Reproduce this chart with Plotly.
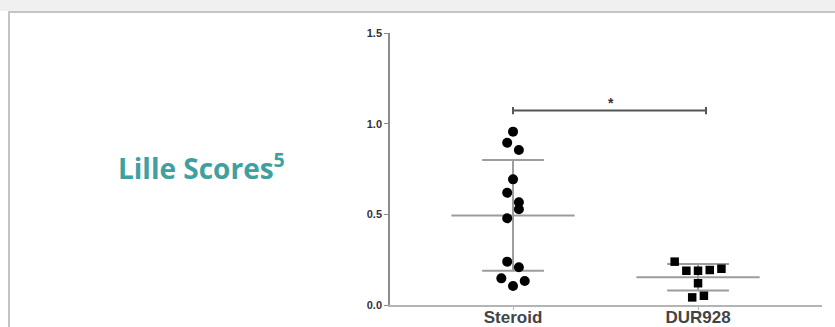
import numpy as np
import plotly.graph_objects as go

# ---------------- data ----------------
categories = ["Steroid", "DUR928"]
steroid_scores = [0.956, 0.895, 0.855, 0.693, 0.619, 0.567, 0.478, 0.528,
                  0.239, 0.208, 0.147, 0.105, 0.132]
dur928_scores = [0.239, 0.189, 0.189, 0.193, 0.200, 0.120, 0.042, 0.051]
y_tick_vals = [0.0, 0.5, 1.0, 1.5]
y_tick_text = ["0.0", "0.5", "1.0", "1.5"]
significance_y = 1.072
significance_label = "*"
title_text = "Lille Scores<sup>5</sup>"

# ---------------- layout constants ----------------
W, H = 835, 327
L, R, T, B = 390, 13, 33, 22
PW, PH = W - L - R, H - T - B
X_RANGE = [-0.665, 1.670]
Y_RANGE = [0.0, 1.5]


def px_x(p):  # page pixel -> paper x
    return (p - L) / PW


def px_y(p):  # page pixel -> paper y
    return (H - B - p) / PH


def beeswarm(values, row_h=0.057, step=0.0632):
    """Deterministic dot-plot layout: group close values into rows,
    spread each row symmetrically around the category centre."""
    order = sorted(range(len(values)), key=lambda i: -values[i])
    rows, cur = [], []
    for i in order:
        if cur and values[cur[0]] - values[i] > row_h:
            rows.append(cur)
            cur = []
        cur.append(i)
    if cur:
        rows.append(cur)
    offs = [0.0] * len(values)
    for row in rows:
        row = sorted(row)
        n = len(row)
        for k, i in enumerate(row):
            offs[i] = (k - (n - 1) / 2) * step
    return offs


fig = go.Figure()

line_col = "#9c9c9c"
groups = [(steroid_scores, "circle", 10), (dur928_scores, "square", 8.5)]

for gi, (vals, sym, size) in enumerate(groups):
    arr = np.array(vals)
    m, s = arr.mean(), arr.std(ddof=1)
    fig.add_trace(go.Scatter(x=[gi - 0.333, gi + 0.333], y=[m, m], mode="lines",
                             line=dict(color=line_col, width=2), hoverinfo="skip",
                             showlegend=False, cliponaxis=False))
    for yv in (m - s, m + s):
        fig.add_trace(go.Scatter(x=[gi - 0.167, gi + 0.167], y=[yv, yv], mode="lines",
                                 line=dict(color=line_col, width=2), hoverinfo="skip",
                                 showlegend=False, cliponaxis=False))
    fig.add_trace(go.Scatter(x=[gi, gi], y=[m - s, m + s], mode="lines",
                             line=dict(color=line_col, width=2), hoverinfo="skip",
                             showlegend=False, cliponaxis=False))

for gi, (vals, sym, size) in enumerate(groups):
    offs = beeswarm(vals)
    fig.add_trace(go.Scatter(x=[gi + o for o in offs], y=vals, mode="markers",
                             marker=dict(symbol=sym, size=size, color="black",
                                         line=dict(width=0)),
                             name=categories[gi], showlegend=False, cliponaxis=False))

# significance bracket
br_col = "#555555"
br_x0, br_x1 = 0.0, 1.043
fig.add_trace(go.Scatter(x=[br_x0, br_x1], y=[significance_y] * 2, mode="lines",
                         line=dict(color=br_col, width=2), showlegend=False,
                         hoverinfo="skip"))
for xb in (br_x0, br_x1):
    fig.add_trace(go.Scatter(x=[xb, xb], y=[significance_y - 0.02, significance_y + 0.02],
                             mode="lines", line=dict(color=br_col, width=2),
                             showlegend=False, hoverinfo="skip"))
fig.add_annotation(x=(br_x0 + br_x1) / 2 + 0.01, y=significance_y, xref="x", yref="y",
                   text=significance_label, showarrow=False, yanchor="bottom", yshift=-2,
                   font=dict(family="Liberation Sans", size=14, color="#333333",
                             weight="bold"))

# title
fig.add_annotation(x=px_x(116), y=px_y(166), xref="paper", yref="paper",
                   text=title_text, showarrow=False, xanchor="left", yanchor="middle",
                   font=dict(family="Open Sans", size=28, color="#40a0a0", weight="bold"))

# page decoration: top strip and panel border
shapes = [
    dict(type="rect", xref="paper", yref="paper", x0=px_x(0), x1=px_x(W),
         y0=px_y(0), y1=px_y(11), fillcolor="#f0f0f0", line=dict(width=0), layer="below"),
    dict(type="line", xref="paper", yref="paper", x0=px_x(8), x1=px_x(W),
         y0=px_y(12), y1=px_y(12), line=dict(color="#c4c4c4", width=2), layer="below"),
    dict(type="line", xref="paper", yref="paper", x0=px_x(9), x1=px_x(9),
         y0=px_y(11), y1=px_y(H + 2), line=dict(color="#c4c4c4", width=2), layer="below"),
]

fig.update_layout(
    template="none",
    width=W, height=H, autosize=False,
    margin=dict(l=L, r=R, t=T, b=B, pad=0),
    paper_bgcolor="white", plot_bgcolor="white",
    shapes=shapes, showlegend=False,
    xaxis=dict(range=X_RANGE, tickvals=[0, 1], ticktext=categories,
               automargin=False, ticklabelstandoff=-7,
               showline=True, linecolor="#b4b4b4", linewidth=2,
               ticks="outside", ticklen=3, tickcolor="#b4b4b4", tickwidth=1,
               showgrid=False, zeroline=False,
               tickfont=dict(family="Liberation Sans", size=17, color="#444444",
                             weight="bold")),
    yaxis=dict(range=Y_RANGE, tickvals=y_tick_vals, ticktext=y_tick_text,
               automargin=False,
               showline=True, linecolor="#8c8c8c", linewidth=1.5,
               ticks="outside", ticklen=4, tickcolor="#8c8c8c", tickwidth=1,
               showgrid=False, zeroline=False,
               tickfont=dict(family="Liberation Sans", size=11, color="#333333",
                             weight="bold")),
)

fig.write_html(
    "out.html",
    config={"displayModeBar": False},
    post_script="document.body.style.margin='0';document.body.style.overflow='hidden';",
)
